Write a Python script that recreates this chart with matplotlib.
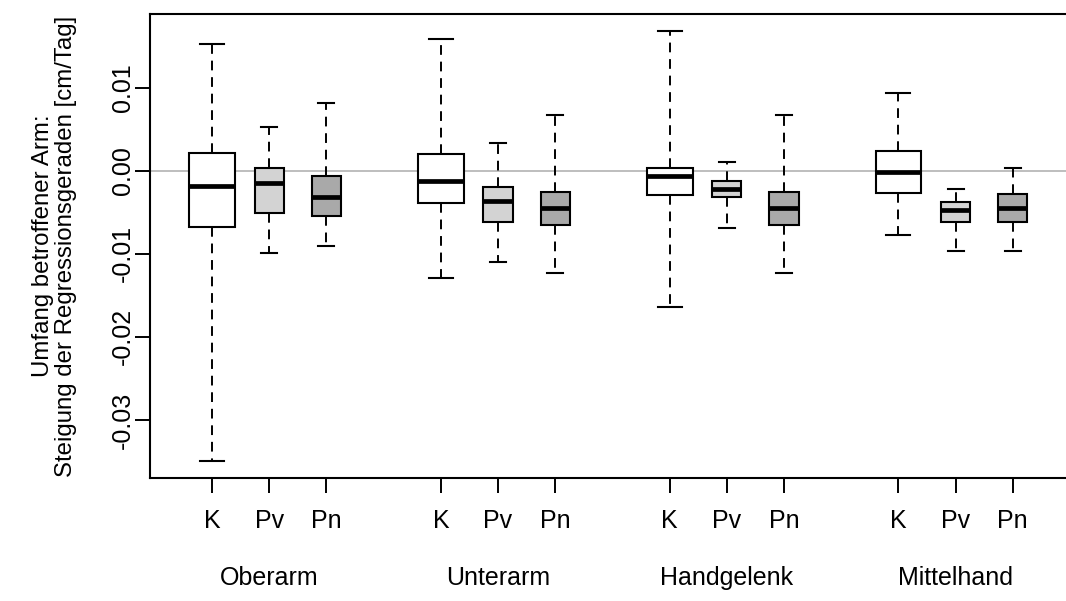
import matplotlib
matplotlib.use("Agg")
import matplotlib.pyplot as plt
import matplotlib.transforms as mtransforms

plt.rcParams['font.family'] = ['Liberation Sans', 'DejaVu Sans']

# data: one list per region, order K, Pv, Pn
groups = ["Oberarm", "Unterarm", "Handgelenk", "Mittelhand"]
cats = ["K", "Pv", "Pn"]
colors = ["white", "#D3D3D3", "#A9A9A9"]

whislo = [[-0.0350, -0.0099, -0.0091],
          [-0.0129, -0.0110, -0.0123],
          [-0.0164, -0.0069, -0.0123],
          [-0.0077, -0.0097, -0.0097]]
q1 = [[-0.0068, -0.0051, -0.0054],
      [-0.0039, -0.0062, -0.0065],
      [-0.0029, -0.0032, -0.0065],
      [-0.0027, -0.0061, -0.0061]]
med = [[-0.0018, -0.0015, -0.0031],
       [-0.0012, -0.0036, -0.0045],
       [-0.0006, -0.0022, -0.0045],
       [-0.0001, -0.0047, -0.0045]]
q3 = [[0.0021, 0.0003, -0.0006],
      [0.0020, -0.0019, -0.0025],
      [0.0004, -0.0012, -0.0025],
      [0.0024, -0.0037, -0.0028]]
whishi = [[0.0153, 0.0053, 0.0082],
          [0.0159, 0.0033, 0.0067],
          [0.0168, 0.0011, 0.0067],
          [0.0094, -0.0022, 0.0004]]

# build the stats for bxp
stats, positions, widths, capw, fills = [], [], [], [], []
for g in range(len(groups)):
    for c in range(len(cats)):
        stats.append(dict(whislo=whislo[g][c], q1=q1[g][c], med=med[g][c],
                          q3=q3[g][c], whishi=whishi[g][c], fliers=[]))
        positions.append(g * 4 + c + 1)
        widths.append(0.8 if c == 0 else 0.51)
        capw.append(0.42 if c == 0 else 0.28)
        fills.append(colors[c])

fig = plt.figure(figsize=(10.66, 6.01), dpi=100)
ax = fig.add_axes([150 / 1066, 1 - 478 / 601, 920 / 1066, 464 / 601])

ax.axhline(0, color="#BEBEBE", lw=1.4, zorder=0)

bp = ax.bxp(stats, positions=positions, widths=widths, capwidths=capw,
            patch_artist=True, showfliers=False,
            boxprops=dict(edgecolor="black", linewidth=1.5),
            medianprops=dict(color="black", linewidth=3.4, solid_capstyle="butt"),
            whiskerprops=dict(color="black", linewidth=1.4, linestyle=(0, (5, 3.5))),
            capprops=dict(color="black", linewidth=1.5))
for patch, col in zip(bp["boxes"], fills):
    patch.set_facecolor(col)

ax.set_xlim(-0.085, 16)
ax.set_ylim(-0.0370, 0.0189)

ax.set_xticks(positions)
ax.set_xticklabels(cats * len(groups))
ax.set_yticks([-0.03, -0.02, -0.01, 0.0, 0.01])
ax.set_yticklabels(["-0.03", "-0.02", "-0.01", "0.00", "0.01"], rotation=90, va="center")
ax.tick_params(axis="both", labelsize=18, length=11, width=1.4, direction="out")
ax.tick_params(axis="x", pad=11)
ax.tick_params(axis="y", pad=0)

for s in ax.spines.values():
    s.set_linewidth(1.5)

# region names under the tick labels
trans = mtransforms.blended_transform_factory(ax.transData, ax.transAxes)
for g, name in enumerate(groups):
    ax.text(g * 4 + 2, -100 / 464, name, transform=trans, ha="center", va="center", fontsize=18)

ax.set_ylabel("Umfang betroffener Arm:\nSteigung der Regressionsgeraden [cm/Tag]",
              fontsize=17.3, linespacing=1.05)
ax.yaxis.set_label_coords(-0.079, 0.5)

fig.savefig("out.png", dpi=100)
